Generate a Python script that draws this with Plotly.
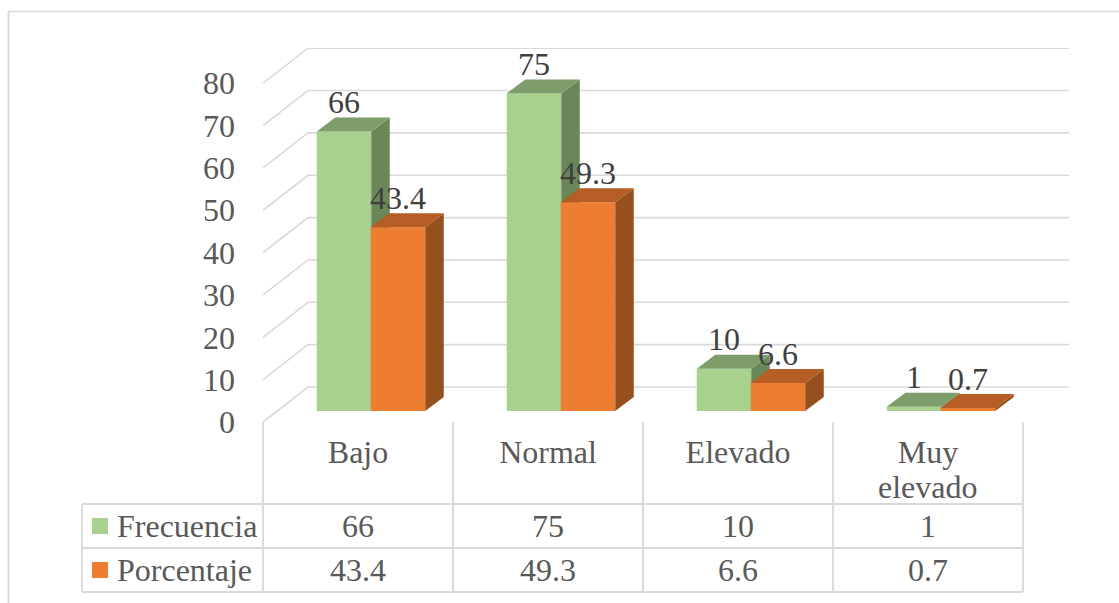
import plotly.graph_objects as go

categories = ["Bajo", "Normal", "Elevado", "Muy"]
category_second_line = ["", "", "", "elevado"]
frecuencia = [66, 75, 10, 1]
porcentaje = [43.4, 49.3, 6.6, 0.7]
freq_labels = ["66", "75", "10", "1"]
pct_labels = ["43.4", "49.3", "6.6", "0.7"]
y_ticks = [0, 10, 20, 30, 40, 50, 60, 70, 80]

W, H = 1119, 603
L, R, T, B = 263, 1069, 48, 422
UNIT_X = 190.0
UNIT_Y = 4.235
X_RANGE = [-0.5, -0.5 + (R - L) / UNIT_X]
Y_RANGE = [0, (B - T) / UNIT_Y]

FONT = "Liberation Serif"
FONT_SIZE = 32
GRID = "#D9D9D9"
TEXT = "#595959"
LABEL = "#404040"

BAR_W = 54.5 / UNIT_X
BASE = 11 / UNIT_Y
DX = 18.5 / UNIT_X
DY = 14 / UNIT_Y
WALL_DX = 45 / UNIT_X
WALL_DY = 35 / UNIT_Y
LABEL_LIFT = 26.5 / UNIT_Y


def px(x):
    return (x - L) / (R - L)


def py(y):
    return (B - y) / (B - T)


def add_series(fig, values, offset, front, top, side, xa, ya, name):
    xs = [i + offset for i in range(len(values))]
    fig.add_trace(go.Bar(x=xs, y=values, base=[BASE] * len(values), width=BAR_W,
                         marker=dict(color=front, line=dict(width=0)),
                         name=name, showlegend=False, xaxis=xa, yaxis=ya))
    for x, v in zip(xs, values):
        xl, xr = x - BAR_W / 2, x + BAR_W / 2
        t = BASE + v
        fig.add_trace(go.Scatter(x=[xr, xr, xr + DX, xr + DX, xr],
                                 y=[BASE, t, t + DY, BASE + DY, BASE],
                                 mode="lines", fill="toself", fillcolor=side,
                                 line=dict(width=0), hoverinfo="skip",
                                 showlegend=False, xaxis=xa, yaxis=ya))
        fig.add_trace(go.Scatter(x=[xl, xr, xr + DX, xl + DX, xl],
                                 y=[t, t, t + DY, t + DY, t],
                                 mode="lines", fill="toself", fillcolor=top,
                                 line=dict(width=0), hoverinfo="skip",
                                 showlegend=False, xaxis=xa, yaxis=ya))


fig = go.Figure()
OFF_G = -14 / UNIT_X
OFF_O = 40 / UNIT_X
add_series(fig, frecuencia, OFF_G, "#A9D18E", "#7F9D6B", "#6B8759", "x", "y", "Frecuencia")
add_series(fig, porcentaje, OFF_O, "#ED7D31", "#B55D24", "#95501D", "x2", "y2", "Porcentaje")

for values, labels, offset in [(frecuencia, freq_labels, OFF_G), (porcentaje, pct_labels, OFF_O)]:
    fig.add_trace(go.Scatter(x=[i + offset for i in range(len(values))],
                             y=[BASE + v + LABEL_LIFT for v in values],
                             text=labels, mode="text", textposition="middle center",
                             textfont=dict(family=FONT, size=FONT_SIZE, color=LABEL),
                             hoverinfo="skip", showlegend=False, xaxis="x2", yaxis="y2",
                             cliponaxis=False))

shapes = []
grid_line = dict(color=GRID, width=1.6)
for v in y_ticks:
    shapes.append(dict(type="path", xref="x", yref="y", layer="below", line=grid_line,
                       path=f"M {X_RANGE[0]} {v} L {X_RANGE[0] + WALL_DX} {v + WALL_DY} "
                            f"L {X_RANGE[1]} {v + WALL_DY}"))


def seg(x0, y0, x1, y1, width=1.8, color=GRID):
    shapes.append(dict(type="line", xref="paper", yref="paper", layer="below",
                       x0=px(x0), y0=py(y0), x1=px(x1), y1=py(y1),
                       line=dict(color=color, width=width)))


# outer frame
seg(8.5, 11.5, W, 11.5, 1.4)
seg(8.5, 11.5, 8.5, H, 2)
# data table rules
ROW_TOP, ROW_MID, ROW_BOT = 504, 548, 592
for y in (ROW_TOP, ROW_MID, ROW_BOT):
    seg(82, y, 1023, y)
seg(82, ROW_TOP, 82, ROW_BOT)
for k in range(len(categories) + 1):
    seg(263 + k * UNIT_X, B, 263 + k * UNIT_X, ROW_BOT)

# legend keys
for yc, color in ((526, "#A9D18E"), (570, "#ED7D31")):
    shapes.append(dict(type="rect", xref="paper", yref="paper", x0=px(92), x1=px(108),
                       y0=py(yc - 8), y1=py(yc + 8), fillcolor=color, line=dict(width=0)))

annotations = []
font = dict(family=FONT, size=FONT_SIZE, color=TEXT)
for name, yc in (("Frecuencia", 526), ("Porcentaje", 570)):
    annotations.append(dict(text=name, xref="paper", yref="paper", x=px(115), y=py(yc),
                            xanchor="left", yanchor="middle", showarrow=False, font=font))
for labels, yc in ((freq_labels, 526), (pct_labels, 570)):
    for i, t in enumerate(labels):
        annotations.append(dict(text=t, xref="x", yref="paper", x=i, y=py(yc),
                                xanchor="center", yanchor="middle", showarrow=False, font=font))
for i, t in enumerate(category_second_line):
    if t:
        annotations.append(dict(text=t, xref="x", yref="paper", x=i, y=py(487),
                                xanchor="center", yanchor="middle", showarrow=False, font=font))

fig.update_layout(
    width=W, height=H, autosize=False,
    margin=dict(l=L, r=W - R, t=T, b=H - B, pad=0),
    paper_bgcolor="white", plot_bgcolor="rgba(0,0,0,0)",
    barmode="overlay", showlegend=False,
    shapes=shapes, annotations=annotations,
    xaxis=dict(range=X_RANGE, tickmode="array", tickvals=list(range(len(categories))),
               ticktext=categories, showgrid=False, zeroline=False, showline=False, ticks="",
               ticklabelstandoff=8, tickangle=0, tickfont=font),
    yaxis=dict(range=Y_RANGE, tickmode="array", tickvals=y_ticks, showgrid=False, zeroline=False,
               showline=False, ticks="", ticklabelstandoff=27, tickfont=font),
    xaxis2=dict(range=X_RANGE, overlaying="x", visible=False),
    yaxis2=dict(range=Y_RANGE, overlaying="y", visible=False),
)

fig.write_html("out.html", config={"displayModeBar": False},
               post_script="document.body.style.margin='0';document.body.style.overflow='hidden';")
